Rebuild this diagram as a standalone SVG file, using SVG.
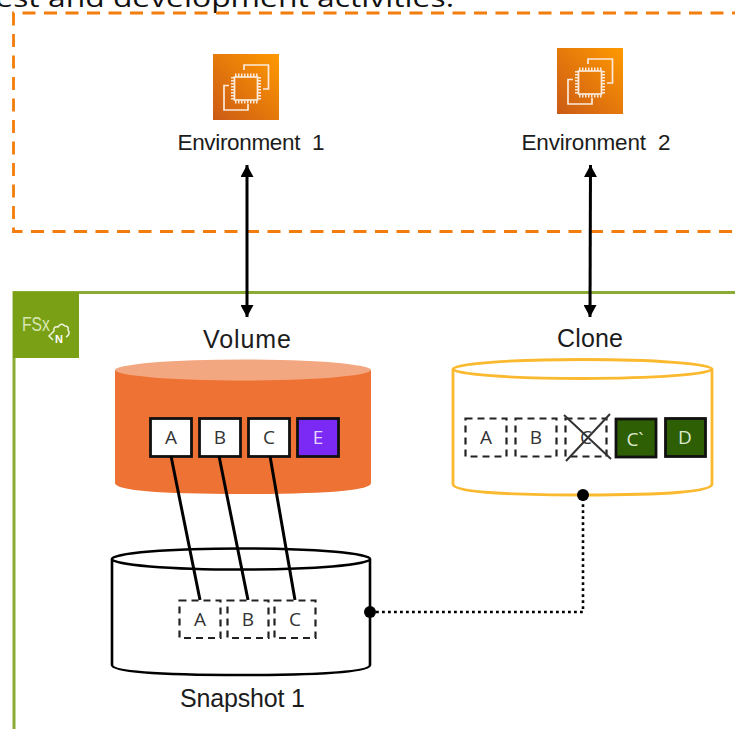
<svg xmlns="http://www.w3.org/2000/svg" width="735" height="729" viewBox="0 0 735 729">
<style>
text{font-family:"Liberation Sans",Arial,sans-serif;fill:#1c1c1c;text-anchor:middle}
.lbl{font-size:25px}
.env{font-size:22.500px}
.box{font-family:"Open Sans","Noto Sans",sans-serif;font-size:19px;fill:#333}
.solid{fill:#fff;stroke:#111;stroke-width:2.800}
.dash{fill:#fff;stroke:#222;stroke-width:2.200;stroke-dasharray:7 5}
.green{fill:#2f5f05;stroke:#111;stroke-width:2.800}
.link{fill:none;stroke:#000;stroke-width:3}
.chip{fill:none;stroke:#fbeadb;stroke-width:1.700}
.cyl{fill:#fff;stroke:#000;stroke-width:2.600}
.cyl2{fill:#fff;stroke:#fbb92f;stroke-width:2.800}
</style>
<defs>
<linearGradient id="ec2" x1="0" y1="1" x2="1" y2="0"><stop offset="0" stop-color="#cb5a16"/><stop offset="1" stop-color="#ff9900"/></linearGradient>
<marker id="ah" markerWidth="12" markerHeight="13" refX="12" refY="6.500" orient="auto-start-reverse" markerUnits="userSpaceOnUse"><path d="M0,0 L12,6.500 L0,13 Z" fill="#000"/></marker>
<g id="chipicon">
<rect width="66" height="66" fill="url(#ec2)"/>
<path class="chip" d="M31,16 V11 H55.500 V35 H50 M16,31.500 H11 V56 H35 V50"/>
<rect class="chip" x="21.500" y="23" width="23" height="23"/>
<path class="chip" style="stroke-dasharray:1.500 1.500;stroke-width:3" d="M22,21 H45 M22,48 H45 M19.500,23 V46 M46.500,23 V46"/>
</g>
</defs>
<text x="219" y="7" style="font-family:'Open Sans','Noto Sans',sans-serif;font-size:26px;fill:#111" textLength="470" lengthAdjust="spacingAndGlyphs">test and development activities.</text>
<path id="env-frame" d="M745,13 H13.500 V231.500 H745" fill="none" stroke="#f27d0c" stroke-width="2.800" stroke-dasharray="13 8.500"/>
<g id="fsx-frame">
<path d="M14,729 V292.500 H735" fill="none" stroke="#8aab34" stroke-width="3"/>
<rect x="13" y="292" width="66" height="66" fill="#7aa116"/>
<text x="36" y="331" style="font-size:20px;fill:#d9e6b5" textLength="28" lengthAdjust="spacingAndGlyphs">FSx</text>
<path d="M50,335 L55,330 Q54,325 59,326 Q62,321 66,325 Q70,325 69,329 Q72,333 67,336 M53,332 L50,335 L54,339" fill="none" stroke="#eef4dc" stroke-width="1.500" transform="translate(-1,1)"/>
<text x="59" y="343" style="font-size:11px;font-weight:bold;fill:#fff">N</text>
</g>
<g id="env1"><use href="#chipicon" x="213" y="54"/><text class="env" x="251" y="150" xml:space="preserve" textLength="147" lengthAdjust="spacing">Environment  1</text></g>
<g id="env2"><use href="#chipicon" x="557" y="48"/><text class="env" x="596" y="150" xml:space="preserve" textLength="149" lengthAdjust="spacing">Environment  2</text></g>
<g id="volume">
<text class="lbl" x="247" y="348" textLength="88">Volume</text>
<path d="M115,370 V483 Q115,494 243,494 Q371,494 371,483 V370 Z" fill="#ed7233"/>
<ellipse cx="243" cy="370" rx="128" ry="10.500" fill="#f3a780"/>
<rect class="solid" x="150.500" y="418.500" width="41" height="38"/><text class="box" x="171" y="444">A</text>
<rect class="solid" x="199.500" y="418.500" width="41" height="38"/><text class="box" x="220" y="444">B</text>
<rect class="solid" x="248.500" y="418.500" width="41" height="38"/><text class="box" x="269" y="444">C</text>
<rect x="297.500" y="418.500" width="41" height="38" fill="#7b2af5" stroke="#111" stroke-width="2.800"/><text class="box" x="318" y="444" style="fill:#e5d6fb">E</text>
</g>
<g id="clone">
<text class="lbl" x="590" y="347" textLength="66">Clone</text>
<path class="cyl2" d="M453,369 V484 Q453,495 582.500,495 Q712,495 712,484 V369"/>
<ellipse class="cyl2" cx="582.500" cy="369" rx="129.500" ry="9.500"/>
<rect class="dash" x="465.500" y="418.500" width="41" height="38"/><text class="box" x="486" y="444">A</text>
<rect class="dash" x="515.500" y="418.500" width="41" height="38"/><text class="box" x="536" y="444">B</text>
<rect class="dash" x="565.500" y="418.500" width="41" height="38"/><text class="box" x="586" y="444">C</text>
<path d="M564,415 L611,459 M610,414 L566,461" stroke="#333" stroke-width="2" fill="none"/>
<rect class="green" x="616" y="419" width="40" height="38"/><text class="box" x="635" y="446" style="fill:#dde8cf">C`</text>
<rect class="green" x="665.500" y="418.500" width="40" height="38"/><text class="box" x="685" y="444" style="fill:#dde8cf">D</text>
</g>
<g id="snapshot">
<path class="cyl" d="M112,559 V665 Q112,675 241,675 Q370,675 370,665 V559"/>
<ellipse class="cyl" cx="241" cy="559" rx="129" ry="10.500"/>
<rect class="dash" x="179.500" y="600.500" width="41" height="37.500"/><text class="box" x="200" y="626">A</text>
<rect class="dash" x="227.500" y="600.500" width="41" height="37.500"/><text class="box" x="248" y="626">B</text>
<rect class="dash" x="274.500" y="600.500" width="41" height="37.500"/><text class="box" x="295" y="626">C</text>
<text class="lbl" x="242.500" y="707" textLength="125">Snapshot 1</text>
</g>
<g id="connectors">
<path class="link" d="M247,165 V317" marker-start="url(#ah)" marker-end="url(#ah)"/>
<path class="link" d="M590.500,165 L590,317" marker-start="url(#ah)" marker-end="url(#ah)"/>
<path class="link" d="M171,456 L200,600 M219,456 L248,600 M270,456 L295,600"/>
<path d="M370,612 H583 V495" fill="none" stroke="#000" stroke-width="2.600" stroke-dasharray="2.800 3.200"/>
<circle cx="370" cy="612" r="6" fill="#000"/>
<circle cx="583" cy="495" r="6" fill="#000"/>
</g>
</svg>
